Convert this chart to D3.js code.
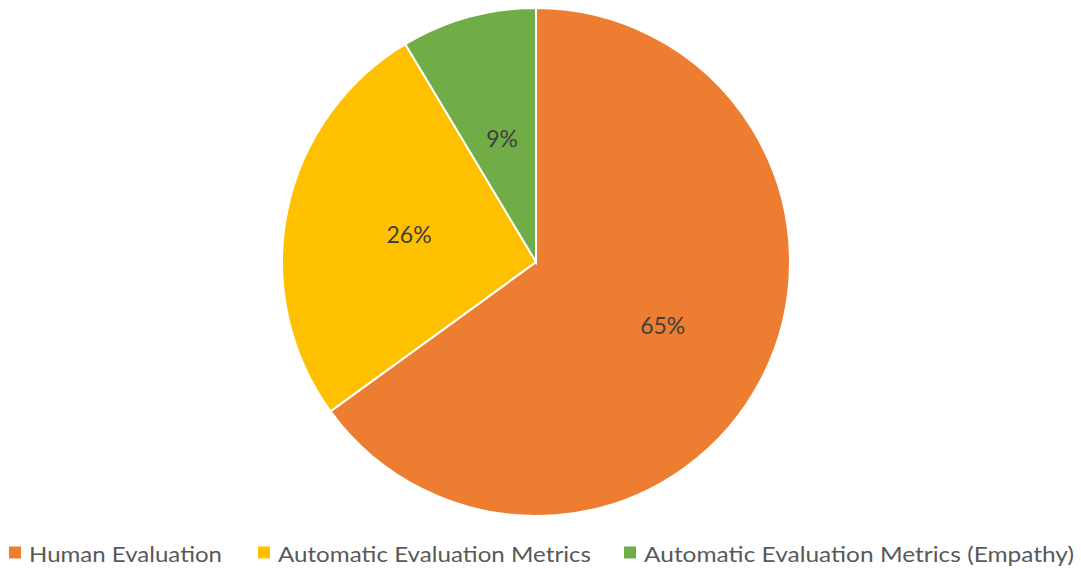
<!DOCTYPE html>
<html>
<head>
<meta charset="utf-8">
<script src="https://cdn.jsdelivr.net/npm/d3@7"></script>
<style>
  html, body { margin: 0; padding: 0; background: #ffffff; }
  svg { display: block; }
</style>
</head>
<body>
<svg id="chart" width="1081" height="569"></svg>
<script>
const categories = ["Human Evaluation", "Automatic Evaluation Metrics", "Automatic Evaluation Metrics (Empathy)"];
const values = [65, 26.4, 8.6];
const colors = ["#ED7D31", "#FFC000", "#70AD47"];

const W = 1081, H = 569;
const cx = 536, cy = 262, R = 254;
const svg = d3.select("#chart");
const font = "Lato, 'Open Sans', sans-serif";

const data = categories.map((c, i) => ({ name: c, value: values[i], color: colors[i] }));
const pie = d3.pie().value(d => d.value).sort(null);
const arcs = pie(data);
const arc = d3.arc().innerRadius(0).outerRadius(R);

const g = svg.append("g").attr("transform", `translate(${cx},${cy})`);
g.selectAll("path").data(arcs).join("path")
  .attr("d", arc)
  .attr("fill", d => d.data.color)
  .attr("stroke", "#ffffff")
  .attr("stroke-width", 2);

const labelFactor = [0.56, 0.51, 0.5];
g.selectAll("text.lbl").data(arcs).join("text")
  .attr("class", "lbl")
  .attr("transform", (d, i) => {
    const a = (d.startAngle + d.endAngle) / 2;
    const r = R * labelFactor[i];
    return `translate(${Math.sin(a) * r},${-Math.cos(a) * r - 2})`;
  })
  .attr("text-anchor", "middle")
  .attr("dominant-baseline", "central")
  .attr("font-family", font)
  .attr("font-size", 23)
  .attr("fill", "#404040")
  .text(d => Math.round(d.value) + "%");

// Legend
const legX = [9, 258, 624];
const legW = [193, 313, 430];
const legY = 553;
const leg = svg.append("g");
const items = leg.selectAll("g").data(data).join("g")
  .attr("transform", (d, i) => `translate(${legX[i]},${legY})`);
items.append("rect")
  .attr("x", 0).attr("y", -6.5).attr("width", 12).attr("height", 12)
  .attr("fill", d => d.color);
items.append("text")
  .attr("x", 20).attr("y", 0)
  .attr("dominant-baseline", "central")
  .attr("font-family", font)
  .attr("font-size", 22)
  .attr("textLength", (d, i) => legW[i])
  .attr("lengthAdjust", "spacingAndGlyphs")
  .attr("fill", "#595959")
  .text(d => d.name);
</script>
</body>
</html>
